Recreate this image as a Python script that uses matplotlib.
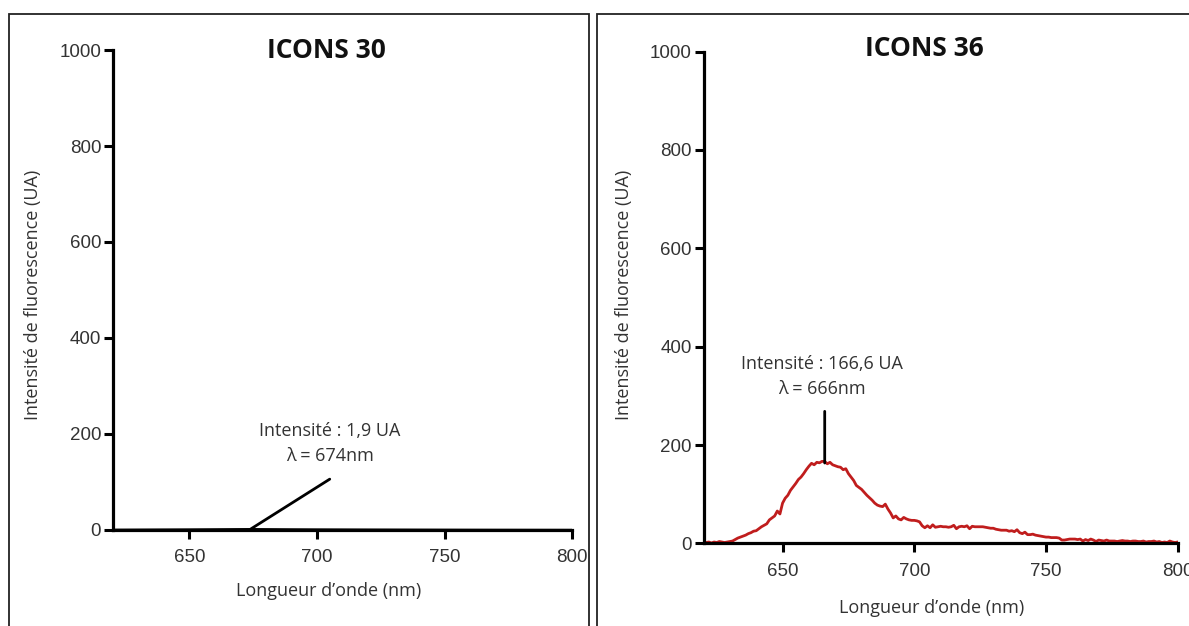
import matplotlib.pyplot as plt
import numpy as np
from matplotlib.patches import Rectangle


# ICONS 30 : signal quasi nul (max 1,9 UA a 674 nm)
WL_30 = [620, 630, 640, 650, 660, 670, 674, 680, 690, 700, 720, 740, 760, 780, 800]
INT_30 = [0.6, 0.8, 1.0, 1.2, 1.5, 1.8, 1.9, 1.7, 1.4, 1.2, 0.9, 0.7, 0.5, 0.4, 0.3]
PIC_30 = (674, 1.9)

# ICONS 36 : spectre releve au pas de 1 nm (620 -> 800 nm)
WL_36_START, WL_36_STOP = 620, 800
INT_36 = [
    4, 2, 3, 1, 3, 2, 4, 3, 2, 3,            # 620-629
    4, 5, 8, 11, 13, 15, 17, 20, 22, 25,      # 630-639
    26, 30, 34, 37, 40, 48, 52, 56, 66, 60,   # 640-649
    82, 92, 98, 108, 115, 122, 130, 135, 142, 150,  # 650-659
    157, 163, 160, 165, 164, 167, 166.6, 162, 165, 160,  # 660-669
    158, 156, 155, 150, 152, 142, 135, 128, 118, 114,  # 670-679
    110, 104, 98, 93, 88, 82, 78, 76, 75, 80,  # 680-689
    70, 62, 52, 56, 50, 48, 53, 50, 48, 47,   # 690-699
    47, 46, 44, 36, 32, 36, 32, 38, 33, 34,   # 700-709
    35, 34, 34, 33, 34, 37, 30, 34, 35, 34,   # 710-719
    36, 30, 35, 34, 34, 34, 34, 33, 32, 31,   # 720-729
    31, 29, 28, 27, 27, 27, 25, 26, 24, 28,   # 730-739
    22, 20, 23, 18, 18, 19, 17, 16, 15, 14,   # 740-749
    13, 13, 12, 12, 12, 11, 7, 7, 8, 9,       # 750-759
    9, 9, 8, 9, 5, 8, 6, 9, 7, 4,             # 760-769
    7, 6, 5, 7, 5, 5, 5, 4, 5, 6,             # 770-779
    5, 5, 4, 5, 5, 4, 4, 5, 3, 4,             # 780-789
    4, 5, 3, 4, 2, 3, 2, 5, 3, 2,             # 790-799
    3,                                        # 800
]
PIC_36 = (666, 166.6)

X_TICKS = [650, 700, 750, 800]
Y_TICKS = [0, 200, 400, 600, 800, 1000]

TEXT_COLOR = "#333333"
ROUGE = "#c01d1d"
POLICE = "Open Sans"


def styler_axe(ax, titre, title_y):
    ax.set_xlim(620, 800)
    ax.set_ylim(0, 1000)
    ax.set_xticks(X_TICKS)
    ax.set_yticks(Y_TICKS)
    for side in ["top", "right"]:
        ax.spines[side].set_visible(False)
    for side in ["left", "bottom"]:
        ax.spines[side].set_linewidth(2.3)
        ax.spines[side].set_capstyle("projecting")
    ax.tick_params(axis="both", direction="out", length=6.5, width=2.2,
                   labelsize=13.5, colors="black")
    ax.tick_params(axis="x", pad=7.5)
    ax.tick_params(axis="y", pad=2)
    for lab in ax.get_xticklabels() + ax.get_yticklabels():
        lab.set_family("Liberation Sans")
        lab.set_color(TEXT_COLOR)
        lab.set_clip_on(False)
    ax.set_xlabel("Longueur d\u2019onde (nm)", family=POLICE,
                  fontsize=13, color=TEXT_COLOR)
    ax.set_ylabel("Intensit\u00e9 de fluorescence (UA)", family=POLICE,
                  fontsize=13, color=TEXT_COLOR)
    ax.text(0.466, title_y, titre, transform=ax.transAxes, ha="center",
            va="center", family=POLICE, weight="bold", fontsize=19,
            color="#111111")
    ax.patch.set_alpha(0)


def main():
    fig = plt.figure(figsize=(11.89, 6.26), dpi=100)

    # cadres des deux panneaux
    fig.patches.append(Rectangle((9 / 1189, -0.2), 580 / 1189, 1.2 - 14 / 626,
                                 transform=fig.transFigure, fill=False,
                                 edgecolor="#222222", lw=1.3))
    fig.patches.append(Rectangle((597 / 1189, -0.2), 0.6, 1.2 - 14 / 626,
                                 transform=fig.transFigure, fill=False,
                                 edgecolor="#222222", lw=1.3))

    ax1 = fig.add_axes([0.0950, 0.1534, 0.3861, 0.7667])
    ax2 = fig.add_axes([0.5917, 0.1318, 0.3988, 0.7859])

    # ICONS 30
    ax1.plot(WL_30, INT_30, color="black", lw=1.5, zorder=1)
    styler_axe(ax1, "ICONS 30", 1.0)
    ax1.annotate("", xy=PIC_30, xytext=(PIC_30[0] + 31, PIC_30[1] + 104),
                 arrowprops=dict(arrowstyle="-", lw=2, color="black",
                                 shrinkA=0, shrinkB=0))
    ax1.text(PIC_30[0] + 31, PIC_30[1] + 178,
             "Intensit\u00e9 : 1,9 UA\n\u03bb = 674nm", ha="center",
             va="center", family=POLICE, fontsize=13, color=TEXT_COLOR,
             linespacing=1.45)
    ax1.xaxis.set_label_coords(0.47, -0.109)
    ax1.yaxis.set_label_coords(-0.155, 0.49)

    # ICONS 36
    wl_36 = np.arange(WL_36_START, WL_36_STOP + 1)
    ax2.plot(wl_36, INT_36, color=ROUGE, lw=2.0, zorder=2)
    styler_axe(ax2, "ICONS 36", 1.007)
    ax2.annotate("", xy=(PIC_36[0], PIC_36[1] - 3),
                 xytext=(PIC_36[0], PIC_36[1] + 102),
                 arrowprops=dict(arrowstyle="-", lw=2, color="black",
                                 shrinkA=0, shrinkB=0))
    ax2.text(PIC_36[0] - 1, PIC_36[1] + 173,
             "Intensit\u00e9 : 166,6 UA\n\u03bb = 666nm", ha="center",
             va="center", family=POLICE, fontsize=13, color=TEXT_COLOR,
             linespacing=1.45)
    ax2.xaxis.set_label_coords(0.48, -0.112)
    ax2.yaxis.set_label_coords(-0.148, 0.505)

    fig.savefig("out.png", dpi=100)


if __name__ == "__main__":
    main()
